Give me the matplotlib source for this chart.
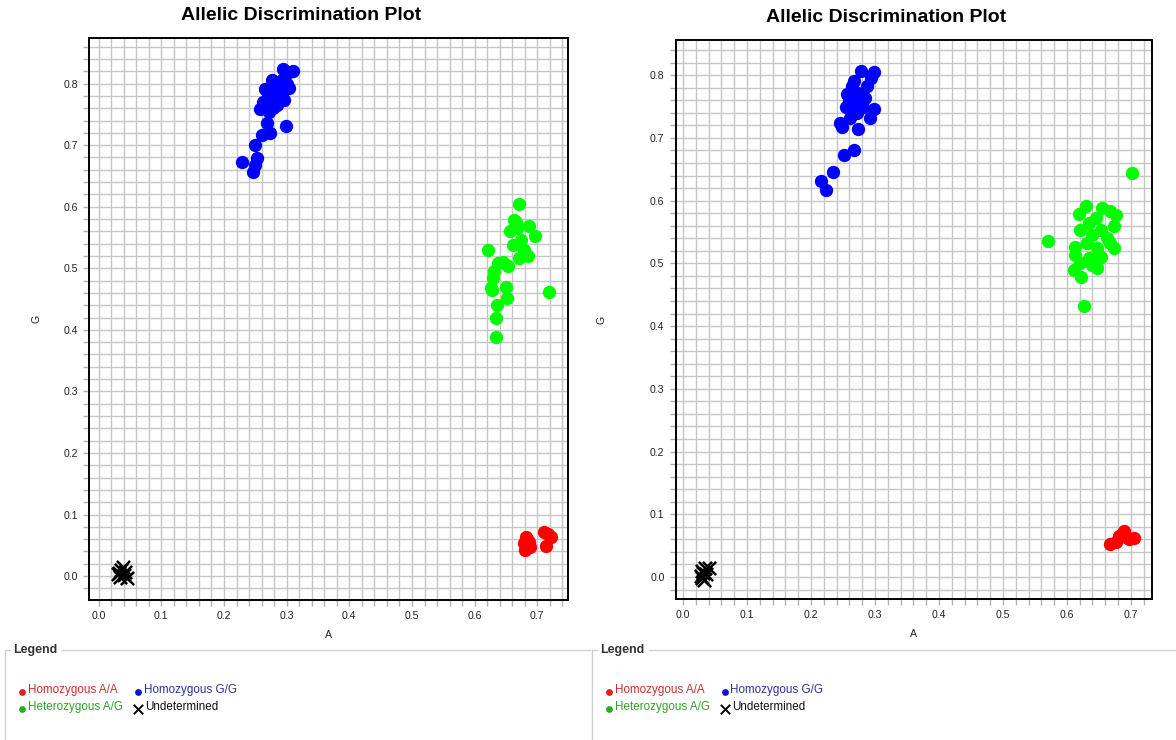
import matplotlib
matplotlib.use("Agg")
import matplotlib.pyplot as plt
import numpy as np

plt.rcParams['font.family'] = ['Liberation Sans', 'DejaVu Sans']

# ---------------- data: left plot ----------------
L_GG_x = [0.294, 0.310, 0.303, 0.276, 0.266, 0.303, 0.285, 0.269, 0.295, 0.258, 0.271, 0.285,
          0.269, 0.299, 0.260, 0.273, 0.249, 0.228, 0.253, 0.250, 0.247, 0.280, 0.290, 0.275,
          0.283, 0.292, 0.300, 0.278, 0.288, 0.270, 0.262, 0.296]
L_GG_y = [0.823, 0.821, 0.818, 0.805, 0.791, 0.793, 0.793, 0.774, 0.774, 0.758, 0.754, 0.765,
          0.736, 0.731, 0.717, 0.720, 0.700, 0.673, 0.679, 0.668, 0.656, 0.800, 0.785, 0.780,
          0.770, 0.805, 0.800, 0.760, 0.778, 0.785, 0.770, 0.790]
L_AG_x = [0.670, 0.663, 0.666, 0.687, 0.657, 0.697, 0.674, 0.622, 0.661, 0.685, 0.671, 0.653,
          0.637, 0.631, 0.629, 0.626, 0.650, 0.651, 0.718, 0.635, 0.634, 0.634, 0.645, 0.668,
          0.628, 0.678]
L_AG_y = [0.605, 0.579, 0.575, 0.569, 0.560, 0.553, 0.546, 0.529, 0.537, 0.520, 0.517, 0.503,
          0.508, 0.495, 0.484, 0.468, 0.469, 0.451, 0.461, 0.441, 0.420, 0.388, 0.510, 0.565,
          0.465, 0.530]
L_AA_x = [0.682, 0.679, 0.687, 0.680, 0.689, 0.684, 0.710, 0.722, 0.714, 0.717]
L_AA_y = [0.063, 0.053, 0.056, 0.043, 0.047, 0.060, 0.072, 0.064, 0.049, 0.068]
L_UN_x = [0.032, 0.036, 0.040, 0.038, 0.034, 0.042, 0.030, 0.045]
L_UN_y = [0.005, 0.010, 0.002, 0.015, -0.002, 0.006, 0.003, -0.003]

# ---------------- data: right plot ----------------
R_GG_x = [0.278, 0.298, 0.294, 0.267, 0.264, 0.287, 0.256, 0.274, 0.284, 0.259, 0.269, 0.281,
          0.299, 0.255, 0.272, 0.293, 0.261, 0.246, 0.248, 0.274, 0.267, 0.251, 0.234, 0.216,
          0.223, 0.277, 0.262]
R_GG_y = [0.807, 0.805, 0.795, 0.790, 0.782, 0.782, 0.770, 0.771, 0.763, 0.758, 0.753, 0.750,
          0.746, 0.749, 0.740, 0.732, 0.732, 0.724, 0.718, 0.714, 0.681, 0.673, 0.646, 0.632,
          0.617, 0.760, 0.765]
R_AG_x = [0.702, 0.630, 0.619, 0.655, 0.668, 0.676, 0.645, 0.634, 0.621, 0.673, 0.653, 0.640,
          0.663, 0.570, 0.632, 0.668, 0.613, 0.647, 0.673, 0.613, 0.634, 0.653, 0.621, 0.640,
          0.647, 0.611, 0.622, 0.626]
R_AG_y = [0.644, 0.592, 0.579, 0.589, 0.583, 0.577, 0.572, 0.564, 0.553, 0.559, 0.553, 0.545,
          0.540, 0.535, 0.532, 0.532, 0.526, 0.524, 0.524, 0.514, 0.508, 0.510, 0.500, 0.498,
          0.492, 0.489, 0.478, 0.432]
R_AA_x = [0.667, 0.676, 0.681, 0.690, 0.697, 0.705, 0.687, 0.693]
R_AA_y = [0.052, 0.056, 0.065, 0.074, 0.060, 0.062, 0.068, 0.064]
R_UN_x = [0.030, 0.035, 0.040, 0.028, 0.033, 0.036, 0.031, 0.030]
R_UN_y = [0.010, 0.015, 0.014, 0.002, -0.004, 0.005, 0.006, -0.002]

major_ticks = [0.0, 0.1, 0.2, 0.3, 0.4, 0.5, 0.6, 0.7, 0.8]
legend_labels = ["Homozygous A/A", "Homozygous G/G", "Heterozygous A/G", "Undetermined"]

W, H = 1176, 740
fig = plt.figure(figsize=(W / 100, H / 100), dpi=100)
fig.patch.set_facecolor('white')


def px_rect(x0, y0, x1, y1):
    return [x0 / W, 1 - y1 / H, (x1 - x0) / W, (y1 - y0) / H]


def make_panel(rect, xlim, ylim, data, title_xy, ypad):
    ax = fig.add_axes(rect)
    ax.set_xlim(*xlim)
    ax.set_ylim(*ylim)
    minor = np.round(np.arange(-0.04, 0.92, 0.02), 2)
    ax.set_xticks([t for t in minor if xlim[0] <= t <= xlim[1]], minor=True)
    ax.set_yticks([t for t in minor if ylim[0] <= t <= ylim[1]], minor=True)
    ax.set_xticks([t for t in major_ticks if t <= xlim[1]])
    ax.set_yticks([t for t in major_ticks if t <= ylim[1]])
    ax.set_xticklabels([f"{t:.1f}" for t in ax.get_xticks()])
    ax.set_yticklabels([f"{t:.1f}" for t in ax.get_yticks()])
    ax.grid(True, which='both', color='#c6c6c6', linewidth=1.0)
    ax.set_axisbelow(True)
    ax.tick_params(which='both', direction='out', length=4, width=1, color='#b0b0b0',
                   labelsize=7.6, labelcolor='#222222', pad=4)
    for s in ax.spines.values():
        s.set_color('black')
        s.set_linewidth(1.4)
    (aa_x, aa_y), (gg_x, gg_y), (ag_x, ag_y), (un_x, un_y) = data
    ax.scatter(gg_x, gg_y, s=92, color='#0000ff', linewidths=0, zorder=3)
    ax.scatter(ag_x, ag_y, s=92, color='#00ff00', linewidths=0, zorder=3)
    ax.scatter(aa_x, aa_y, s=92, color='#ff0000', linewidths=0, zorder=3)
    ax.scatter(un_x, un_y, s=90, marker='x', color='black', linewidths=1.8, zorder=4)
    ax.set_xlabel("A", fontsize=7.6, color='#222222', labelpad=6.5)
    ax.set_ylabel("G", fontsize=7.6, color='#222222', labelpad=ypad)
    fig.text(title_xy[0] / W, 1 - title_xy[1] / H, "Allelic Discrimination Plot",
             ha='center', va='center', fontsize=14, fontweight='bold', color='black')
    return ax


make_panel(px_rect(89, 38, 568, 599.5), (-0.0155, 0.749), (-0.038, 0.874),
           [(L_AA_x, L_AA_y), (L_GG_x, L_GG_y), (L_AG_x, L_AG_y), (L_UN_x, L_UN_y)],
           (301, 16), 15.5)
make_panel(px_rect(675.7, 40, 1152, 599), (-0.0114, 0.733), (-0.035, 0.856),
           [(R_AA_x, R_AA_y), (R_GG_x, R_GG_y), (R_AG_x, R_AG_y), (R_UN_x, R_UN_y)],
           (886, 18), 31.5)

# ---------------- legend boxes (pixel coordinates) ----------------
lg = fig.add_axes([0, 0, 1, 140 / H])
lg.set_xlim(0, W)
lg.set_ylim(740, 600)
lg.axis('off')

dot_cols = ['#e02020', '#1010d0', '#20b020']
txt_cols = ['#c83030', '#30309a', '#30a030', '#111111']
for off, box_l, box_r in [(0, 5, 590), (587, 592, 1176)]:
    edge = '#d0d0d0'
    lg.plot([box_l, box_l], [650, 740], color=edge, lw=1)
    lg.plot([box_l, off + 10], [650, 650], color=edge, lw=1)
    lg.plot([off + 62, box_r], [650, 650], color=edge, lw=1)
    lg.text(off + 13, 650, "Legend", fontsize=8.9, fontweight='bold', color='#333333',
            ha='left', va='center')
    entries = [(off + 22, 690, 'o', dot_cols[0], legend_labels[0], txt_cols[0]),
               (off + 137.5, 690, 'o', dot_cols[1], legend_labels[1], txt_cols[1]),
               (off + 22, 707, 'o', dot_cols[2], legend_labels[2], txt_cols[2]),
               (off + 138, 707, 'x', 'black', legend_labels[3], txt_cols[3])]
    for x, y, m, c, lab, tc in entries:
        if m == 'o':
            lg.scatter([x], [y + 1.5], s=24, color=c, linewidths=0)
            tx = x + 6
        else:
            lg.scatter([x], [y + 1.5], s=45, marker='x', color=c, linewidths=1.4)
            tx = x + 7
        lg.text(tx, y, lab, fontsize=8.4, color=tc, ha='left', va='center')

fig.savefig("out.png", dpi=100)
